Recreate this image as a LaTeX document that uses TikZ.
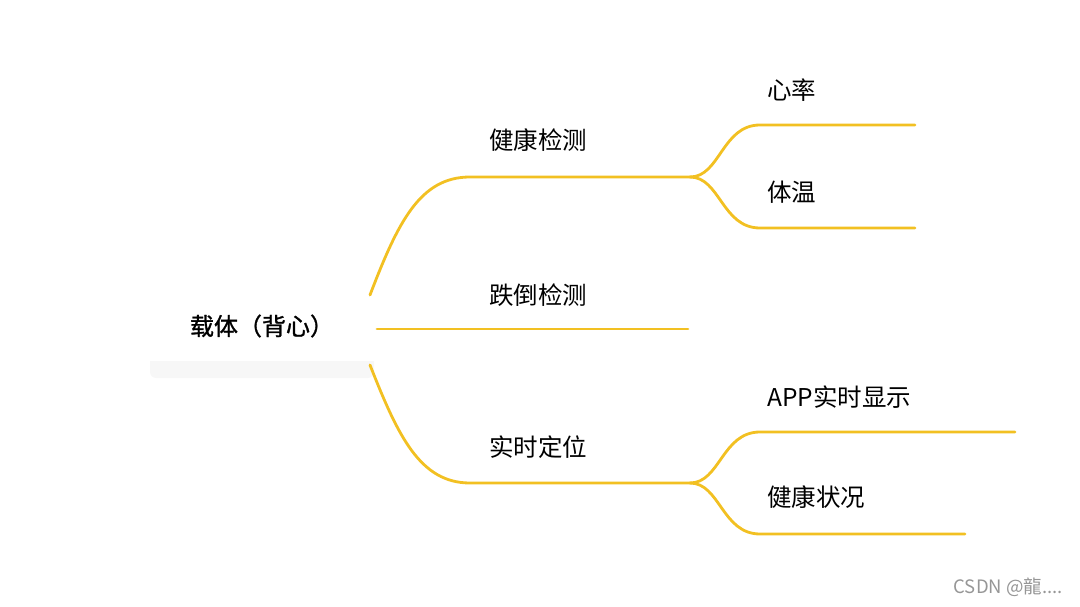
\documentclass[tikz,border=0pt]{standalone}
\usepackage{fontspec}
\setmainfont{Noto Sans CJK SC}
\newfontfamily\rootfont{Noto Sans CJK SC}[FakeBold=1.2]
\definecolor{branch}{RGB}{242,192,34}
\definecolor{mark}{RGB}{150,150,150}
\tikzset{
  lbl/.style={anchor=west, inner sep=0pt, font=\fontsize{24.5}{28}\selectfont},
  br/.style={draw=branch, line width=2.8pt, line cap=round},
}
\begin{document}
\begin{tikzpicture}[x=1pt,y=-1pt]
\useasboundingbox (0,0) rectangle (1080,607);
\fill[black!3, rounded corners=6pt] (150,354) rectangle (374,378);
\node[fill=white, minimum width=226pt, minimum height=70pt, inner sep=0pt, font=\rootfont\fontsize{24}{28}\selectfont] (root) at (262,326) {载体（背心）};
% first level
\coordinate (s1) at (370,295);
\coordinate (s2) at (377,329);
\coordinate (s3) at (370,365);
\coordinate (c1) at (690,177);
\coordinate (e2) at (688,329);
\coordinate (c3) at (690,483);
\draw[br] (s1) .. controls (398,222) and (420,177) .. (470,177) -- (c1);
\draw[br] (s2) -- (e2);
\draw[br] (s3) .. controls (398,436) and (420,483) .. (470,483) -- (c3);
\node[lbl] (n1) at (489,140) {健康检测};
\node[lbl] (n2) at (489,295) {跌倒检测};
\node[lbl] (n3) at (489,447) {实时定位};
% second level
\coordinate (e11) at (915,125);
\coordinate (e12) at (915,228);
\coordinate (e31) at (1015,432);
\coordinate (e32) at (965,534);
\draw[br] (c1) .. controls (720,177) and (722,125) .. (760,125) -- (e11);
\draw[br] (c1) .. controls (720,177) and (722,228) .. (760,228) -- (e12);
\draw[br] (c3) .. controls (720,483) and (722,432) .. (760,432) -- (e31);
\draw[br] (c3) .. controls (720,483) and (722,534) .. (760,534) -- (e32);
\node[lbl] (n11) at (767,90) {心率};
\node[lbl] (n12) at (767,192) {体温};
\node[lbl] (n31) at (767,397) {APP实时显示};
\node[lbl] (n32) at (767,497) {健康状况};
\node[anchor=east, inner sep=0pt, text=mark, font=\fontsize{18.5}{22}\selectfont] (wm) at (1063,587) {CSDN @龍....};
\end{tikzpicture}
\end{document}
